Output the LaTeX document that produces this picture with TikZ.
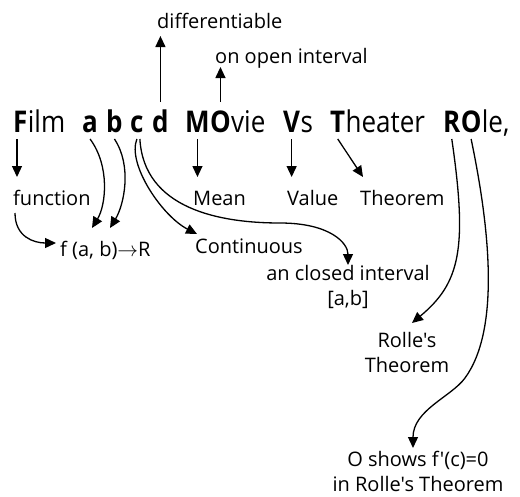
\documentclass[tikz,border=0pt]{standalone}
\usepackage{graphicx}
\usepackage{fontspec}
\newfontfamily\osans{Open Sans}
\usetikzlibrary{arrows.meta,calc}
\newcommand\tallw[1]{\scalebox{1}[1.15]{#1}}
\begin{document}
\begin{tikzpicture}[x=1pt,y=-1pt,
  word/.style={inner sep=0pt, anchor=base west, font=\osans\fontsize{26}{30}\selectfont},
  lab/.style={inner sep=0pt, anchor=base west, font=\osans\fontsize{20}{25}\selectfont},
  mlab/.style={inner sep=0pt, anchor=north, align=center, font=\osans\fontsize{20}{25}\selectfont},
  arr/.style={line width=1.3pt, -{Triangle[length=11pt,width=10pt]}}]
\useasboundingbox (0,0) rectangle (520,496);
% rows used by arrows
\coordinate (top1) at (0,139);
\coordinate (tip1) at (0,177);
\coordinate (up0) at (0,102);
\coordinate (tipd) at (0,36);
\coordinate (tipo) at (0,67);
% main line
\node[word] (F) at (13,132) {\tallw{\bfseries F}};
\node[word] (ilm) at (F.base east) {\tallw{ilm}};
\node[word] (a) at (82,132) {\tallw{\bfseries a}};
\node[word] (b) at (106,132) {\tallw{\bfseries b}};
\node[word] (c) at (130,132) {\tallw{\bfseries c}};
\node[word] (d) at (152,132) {\tallw{\bfseries d}};
\node[word] (M) at (185,132) {\tallw{\bfseries M}};
\node[word] (O1) at (M.base east) {\tallw{\bfseries O}};
\node[word] (vie) at (O1.base east) {\tallw{vie}};
\node[word] (V) at (283,132) {\tallw{\bfseries V}};
\node[word] (s) at (V.base east) {\tallw{s}};
\node[word] (T) at (330,132) {\tallw{\bfseries T}};
\node[word] (heater) at (T.base east) {\tallw{heater}};
\node[word] (R) at (443,132) {\tallw{\bfseries R}};
\node[word] (O2) at (R.base east) {\tallw{\bfseries O}};
\node[word] (le) at (O2.base east) {\tallw{le,}};
% labels
\node[lab] (diff) at (157,28) {differentiable};
\node[lab] (open) at (215,63) {on open interval};
\node[lab] (func) at (13,205) {function};
\node[lab] (mean) at (193,205) {Mean};
\node[lab] (value) at (287,205) {Value};
\node[lab] (thm) at (360,205) {Theorem};
\node[lab] (fab) at (60,256) {f (a, b)$\rightarrow$R};
\node[lab] (cont) at (195,253) {Continuous};
\node[mlab] (closed) at (348,265) {an closed interval\\{}[a,b]};
\node[mlab] (rolle) at (407,332) {Rolle's\\Theorem};
\node[mlab] (oshows) at (418,451) {O shows f'(c)=0\\in Rolle's Theorem};
% straight arrows
\draw[arr] (d.north |- up0) -- (d.north |- tipd);
\draw[arr] (O1.north |- up0) -- (O1.north |- tipo);
\draw[arr] ($(F.south west |- top1)+(4,0)$) -- ($(F.south west |- tip1)+(4,0)$);
\draw[arr] (M.south |- top1) -- (M.south |- tip1);
\draw[arr] (V.south |- top1) -- (V.south |- tip1);
\draw[arr] (T.south |- top1) -- ($(thm.base west |- tip1)+(3,0)$);
% curved arrows
\draw[arr] ($(func.base west)+(2,8)$) .. controls +(0,24) and +(-22,0) .. ($(fab.base west)+(-4,-13)$);
\draw[arr] (a.south |- top1) .. controls +(20,27) and +(14,-23) .. ($(fab.base west)+(32,-28)$);
\draw[arr] (b.south |- top1) .. controls +(18,27) and +(14,-23) .. ($(fab.base west)+(50,-28)$);
\draw[arr] (c.south |- top1) .. controls +(-10,25) and +(-35,-18) .. ($(cont.base west)+(2,-19)$);
\draw[arr] ($(c.south |- top1)+(3,0)$) .. controls +(4,70) and +(-60,0) .. (280,223)
   .. controls +(50,0) and +(0,-22) .. (closed.north);
\draw[arr] (R.south |- top1) .. controls +(16,110) and +(48,-40) .. ($(rolle.north)+(5,-9)$);
\draw[arr] (O2.south |- top1) .. controls +(19,91) and +(35,-48) .. (465,378)
   .. controls +(-14,19) and +(0,-38) .. ($(oshows.north)+(-5,-3)$);
\end{tikzpicture}
\end{document}
